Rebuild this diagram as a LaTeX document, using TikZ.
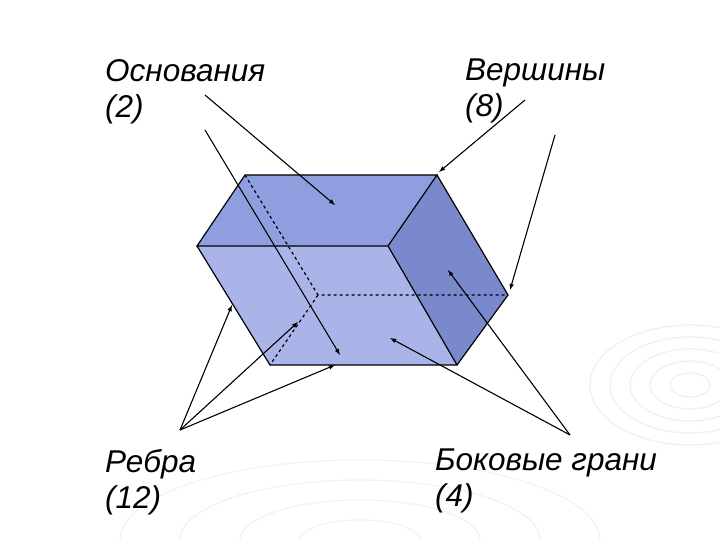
\documentclass[tikz,border=0pt]{standalone}
\usepackage{fontspec}
\setmainfont{Liberation Sans}
\begin{document}
\begin{tikzpicture}[x=1pt,y=-1pt,
  lbl/.style={anchor=north west,align=left,font=\fontsize{31.5}{36}\selectfont\itshape,inner sep=0pt},
  ar/.style={-latex,line width=1.1pt},
  edge/.style={line width=1.2pt},
  hid/.style={line width=1.2pt,dashed}]
\useasboundingbox (0,0) rectangle (720,540);
\fill[white] (0,0) rectangle (720,540);
\foreach \r in {20,40,60,80,100}{\draw[gray!12,line width=1.2pt] (690,385) ellipse ({\r} and {\r*0.6});}
\foreach \r in {40,80,120,160}{\draw[gray!10,line width=1.2pt] (360,540) ellipse ({\r*1.5} and {\r*0.5});}
\coordinate (A) at (245,175); \coordinate (B) at (437,175);
\coordinate (C) at (388,246); \coordinate (D) at (197,246);
\coordinate (E) at (270,365); \coordinate (F) at (457,365);
\coordinate (G) at (508,295); \coordinate (H) at (318,295);
\fill[fill={rgb,255:red,170;green,180;blue,232}] (A)--(B)--(G)--(F)--(E)--(D)--cycle;
\fill[fill={rgb,255:red,143;green,158;blue,222}] (A)--(B)--(C)--(D)--cycle;
\fill[fill={rgb,255:red,122;green,136;blue,204}] (C)--(B)--(G)--(F)--cycle;
\draw[edge] (A)--(B)--(C)--(D)--cycle;
\draw[edge] (D)--(E)--(F)--(C) (B)--(G)--(F);
\draw[hid] (A)--(H)--(G) (H)--(E);
\node[lbl] (osn) at (105,59) {Основания\\(2)};
\node[lbl] (ver) at (465,59) {Вершины\\(8)};
\node[lbl] (reb) at (105,449) {Ребра\\(12)};
\node[lbl] (bok) at (435,449) {Боковые грани\\(4)};
\coordinate (o1) at (205,95); \coordinate (o2) at (205,130);
\coordinate (v1) at (525,100); \coordinate (v2) at (555,135);
\coordinate (r0) at (180,430); \coordinate (b0) at (570,435);
\coordinate (t1) at (335,205); \coordinate (t2) at (340,355);
\coordinate (t3) at (439,172); \coordinate (t4) at (510,290);
\coordinate (t5) at (232,305); \coordinate (t6) at (298,322); \coordinate (t7) at (335,365);
\coordinate (t8) at (448,270); \coordinate (t9) at (390,338);
\draw[ar] (o1)--(t1); \draw[ar] (o2)--(t2);
\draw[ar] (v1)--(t3); \draw[ar] (v2)--(t4);
\draw[ar] (r0)--(t5); \draw[ar] (r0)--(t6); \draw[ar] (r0)--(t7);
\draw[ar] (b0)--(t8); \draw[ar] (b0)--(t9);
\end{tikzpicture}
\end{document}
